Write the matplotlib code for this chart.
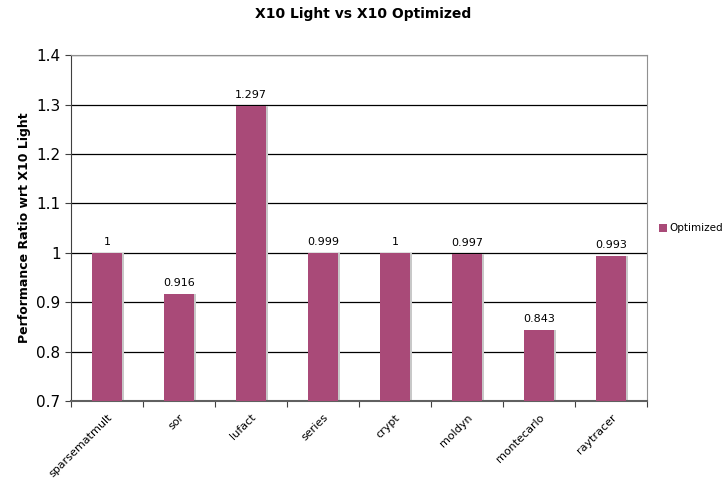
import matplotlib
matplotlib.use("Agg")
import matplotlib.pyplot as plt
import numpy as np
from matplotlib.patches import Patch

benchmarks = ["sparsematmult", "sor", "lufact", "series", "crypt",
              "moldyn", "montecarlo", "raytracer"]
optimized = [1.0, 0.916, 1.297, 0.999, 1.0, 0.997, 0.843, 0.993]
value_labels = ["1", "0.916", "1.297", "0.999", "1", "0.997", "0.843", "0.993"]
y_ticks = [0.7, 0.8, 0.9, 1.0, 1.1, 1.2, 1.3, 1.4]
y_tick_labels = ["0.7", "0.8", "0.9", "1", "1.1", "1.2", "1.3", "1.4"]

bar_color = "#A94A78"
shadow_color = "#C8C8C8"

fig = plt.figure(figsize=(7.27, 4.79), dpi=100)
ax = fig.add_axes([0.0977, 0.1628, 0.7923, 0.7222])

x = np.arange(len(benchmarks))
width = 0.42
base = 0.7
heights = [v - base for v in optimized]

# soft drop shadow on the right edge of each bar
ax.bar(x + 0.03, heights, width, bottom=base, color=shadow_color, zorder=2)
ax.bar(x, heights, width, bottom=base, color=bar_color, zorder=3)

for xi, v, lab in zip(x, optimized, value_labels):
    ax.text(xi, v + 0.012, lab, ha="center", va="bottom", fontsize=8,
            color="black", zorder=4)

ax.set_xlim(-0.5, len(benchmarks) - 0.5)
ax.set_ylim(0.7, 1.4)
ax.set_yticks(y_ticks)
ax.set_yticklabels(y_tick_labels, fontsize=11)
ax.yaxis.grid(True, color="black", linewidth=0.9, zorder=1)
ax.set_axisbelow(True)

# category labels centred under bars, tick marks between categories
ax.set_xticks(np.arange(len(benchmarks) + 1) - 0.5)
ax.set_xticklabels([])
ax.set_xticks(x, minor=True)
ax.set_xticklabels(benchmarks, minor=True, rotation=45, ha="right",
                   rotation_mode="anchor", fontsize=8)
ax.tick_params(axis="x", which="minor", length=0, pad=8)
ax.tick_params(axis="x", which="major", length=4, color="#404040")
ax.tick_params(axis="y", length=4, color="#404040")

ax.spines["left"].set_color("#404040")
ax.spines["bottom"].set_color("#606060")
ax.spines["bottom"].set_linewidth(1.5)
ax.spines["top"].set_color("#909090")
ax.spines["right"].set_color("#909090")

ax.set_ylabel("Performance Ratio wrt X10 Light", fontsize=9, fontweight="bold")
fig.suptitle("X10 Light vs X10 Optimized", fontsize=10, fontweight="bold",
             y=0.985)

handles = [Patch(facecolor=bar_color, edgecolor="none")]
fig.legend(handles, ["Optimized"], loc="center left",
           bbox_to_anchor=(0.906, 0.523), frameon=False, fontsize=7.5,
           handlelength=0.8, handleheight=0.8, handletextpad=0.25,
           borderpad=0, borderaxespad=0)

fig.savefig("out.png", dpi=100)
